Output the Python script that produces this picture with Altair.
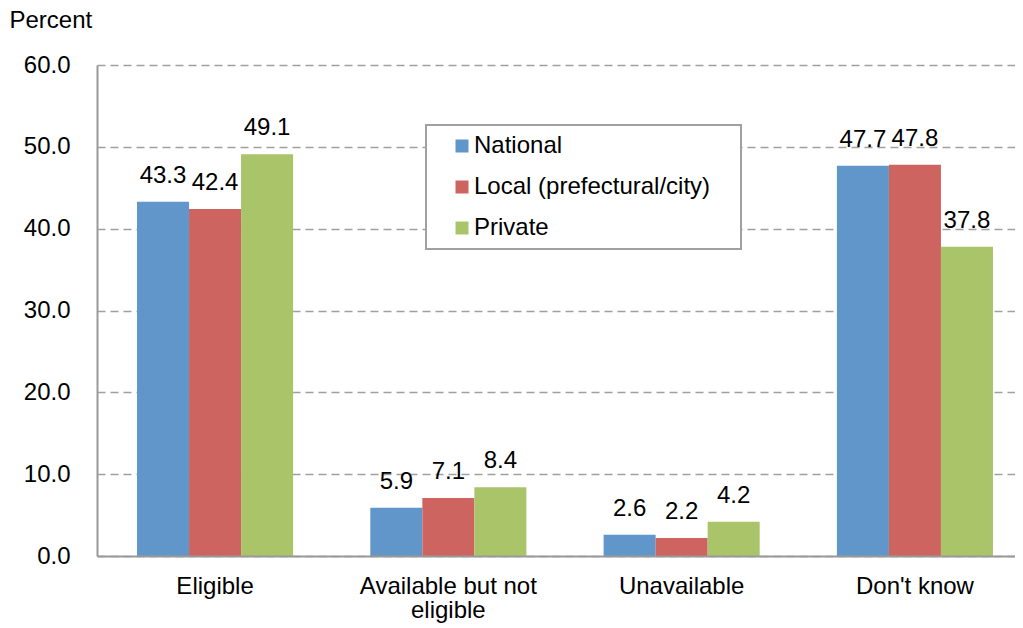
import altair as alt
import pandas as pd

categories = ["Eligible", "Available but not eligible", "Unavailable", "Don't know"]
series = ["National", "Local (prefectural/city)", "Private"]
national = [43.3, 5.9, 2.6, 47.7]
local = [42.4, 7.1, 2.2, 47.8]
private = [49.1, 8.4, 4.2, 37.8]
colors = ["#6096C9", "#CD645F", "#AAC46A"]
y_ticks = [0, 10, 20, 30, 40, 50, 60]

rows = []
for s, vals in zip(series, [national, local, private]):
    for c, v in zip(categories, vals):
        rows.append({"category": c, "series": s, "value": v})
df = pd.DataFrame(rows)

FONT = "Liberation Sans"
FS = 24

x = alt.X(
    "category:N",
    sort=categories,
    scale=alt.Scale(paddingInner=0.331, paddingOuter=0.133, align=0.645),
    axis=alt.Axis(
        title=None, labelAngle=0, labelFontSize=FS, labelColor="black",
        labelPadding=18, labelLineHeight=24, ticks=False,
        domainColor="#999999", domainWidth=2, zindex=1,
        labelExpr="datum.label == 'Available but not eligible' ? ['Available but not', 'eligible'] : datum.label",
    ),
)
xo = alt.XOffset("series:N", sort=series, scale=alt.Scale(paddingInner=0, paddingOuter=0))
y = alt.Y(
    "value:Q",
    scale=alt.Scale(domain=[0, 60], nice=False),
    axis=alt.Axis(
        values=y_ticks, format=".1f", title="Percent", titleAngle=0,
        titleX=-88, titleY=-38, titleAlign="left", titleBaseline="alphabetic",
        titleFontSize=FS, titleFontWeight="normal", titleColor="black",
        labelFontSize=FS, labelColor="black", labelPadding=27, ticks=False,
        grid=True, gridDash=[8, 5], gridColor="#A0A0A0", gridWidth=1.5,
        domainColor="#999999", domainWidth=2,
    ),
)

bars = alt.Chart(df).mark_bar().encode(
    x=x, xOffset=xo, y=y,
    color=alt.Color(
        "series:N", sort=series,
        scale=alt.Scale(domain=series, range=colors),
        legend=alt.Legend(
            title="MM", titleOrient="right", titleColor="white", titleFontSize=10,
            titlePadding=5,
            orient="none", legendX=329, legendY=60,
            padding=9, strokeColor="#A0A0A0", fillColor="white",
            symbolType="square", symbolSize=169, symbolStrokeWidth=0,
            labelFontSize=FS, labelColor="black", labelOffset=0, labelLimit=500,
            rowPadding=17, symbolOffset=15,
        ),
    ),
)

labels = alt.Chart(df).mark_text(
    baseline="alphabetic", dy=-19, fontSize=FS, color="black", font=FONT
).encode(x=x, xOffset=xo, y=y, text=alt.Text("value:Q", format=".1f"))

chart = alt.layer(bars, labels).properties(
    width=918, height=491,
    autosize=alt.AutoSizeParams(type="none"),
    padding={"left": 89, "top": 57, "right": 0, "bottom": 70},
).configure(font=FONT).configure_view(stroke=None).configure_legend(strokeWidth=2)

chart.save("out.html", embed_options={"renderer": "svg", "actions": False})
